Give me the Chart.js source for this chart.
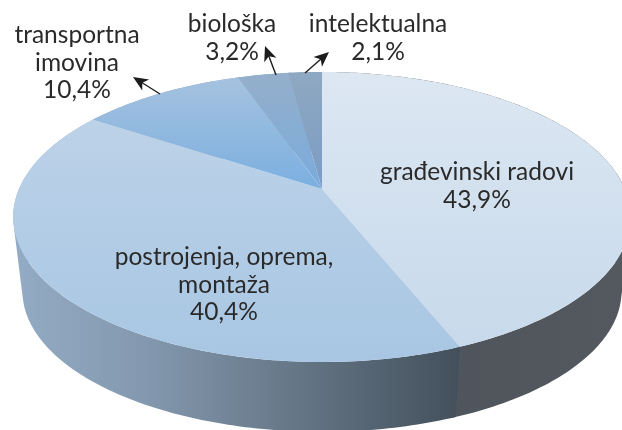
<!DOCTYPE html>
<html>
<head>
<meta charset="utf-8">
<style>html,body{margin:0;padding:0;background:#fff;overflow:hidden}canvas{display:block}</style>
<script src="https://cdn.jsdelivr.net/npm/chart.js@4"></script>
</head>
<body>
<canvas id="c" width="622" height="430"></canvas>
<script>
const categories = ['građevinski radovi', 'postrojenja, oprema, montaža', 'transportna imovina', 'biološka', 'intelektualna'];
const values = [43.9, 40.4, 10.4, 3.2, 2.1];
const labelLines = [['građevinski radovi'], ['postrojenja, oprema,', 'montaža'], ['transportna', 'imovina'], ['biološka'], ['intelektualna']];
const labelCentres = [[477, 180], [224, 265], [77, 43], [232, 32], [378, 32]];
const arrows = [null, null, [160, 94, 133, 77], [276, 75, 265, 46], [305, 73, 329, 52]];

const canvas = document.getElementById('c');
const g = canvas.getContext('2d');

function grad(x0, y0, x1, y1, stops) {
  const lg = g.createLinearGradient(x0, y0, x1, y1);
  stops.forEach(s => lg.addColorStop(s[0], s[1]));
  return lg;
}
const topFills = [
  grad(0, 72, 0, 350, [[0, '#dce7f2'], [1, '#c7d9eb']]),
  grad(0, 120, 0, 362, [[0, '#bcd2e8'], [1, '#a8c6e3']]),
  grad(0, 78, 0, 189, [[0, '#a5c2df'], [1, '#7bafe0']]),
  grad(0, 72, 0, 189, [[0, '#95afca'], [1, '#79abdc']]),
  grad(0, 72, 0, 189, [[0, '#8fa8c2'], [1, '#7a9cc4']])
];
const wallFills = [
  grad(455, 0, 622, 0, [[0, '#4f555c'], [1, '#53595f']]),
  grad(15, 0, 460, 0, [[0, '#93abc4'], [0.3, '#8398ae'], [0.7, '#5f6f7e'], [1, '#43505c']]),
  '#8fa6bf', '#8fa6bf', '#8fa6bf'
];

// perspective view of the pie's unit circle; angle comes from the library's arc elements
function project(theta, scale, dy) {
  const u = Math.cos(theta), v = Math.sin(theta), d = 1 - 0.193 * v;
  return [322 + scale * 303 * u / d, 189 + dy + scale * 139.6 * v / d];
}
function arcPts(a0, a1, scale, dy) {
  const n = Math.max(4, Math.ceil(Math.abs(a1 - a0) * 60)), pts = [];
  for (let i = 0; i <= n; i++) pts.push(project(a0 + (a1 - a0) * i / n, scale, dy));
  return pts;
}
function poly(ctx, pts, fill) {
  ctx.beginPath();
  pts.forEach((p, i) => i ? ctx.lineTo(p[0], p[1]) : ctx.moveTo(p[0], p[1]));
  ctx.closePath();
  ctx.fillStyle = fill;
  ctx.fill();
}
// union of same-orientation quads in a single path: no seams and no fold gaps
function wall(ctx, top, bottom, fill) {
  ctx.beginPath();
  for (let k = 0; k < top.length - 1; k++) {
    let q = [top[k], top[k + 1], bottom[k + 1], bottom[k]];
    let area = 0;
    q.forEach((p, i) => { const r = q[(i + 1) % 4]; area += p[0] * r[1] - r[0] * p[1]; });
    if (area < 0) q = q.reverse();
    q.forEach((p, i) => i ? ctx.lineTo(p[0], p[1]) : ctx.moveTo(p[0], p[1]));
    ctx.closePath();
  }
  ctx.fillStyle = fill;
  ctx.fill('nonzero');
}
function arrow(ctx, a) {
  const [x0, y0, x1, y1] = a, ang = Math.atan2(y1 - y0, x1 - x0);
  ctx.strokeStyle = '#1c1c1c'; ctx.fillStyle = '#1c1c1c'; ctx.lineWidth = 1.4;
  ctx.beginPath();
  ctx.moveTo(x0, y0);
  ctx.lineTo(x1 - 8 * Math.cos(ang), y1 - 8 * Math.sin(ang));
  ctx.stroke();
  ctx.save();
  ctx.translate(x1, y1); ctx.rotate(ang);
  ctx.beginPath();
  ctx.moveTo(0, 0); ctx.lineTo(-15, -6.5); ctx.lineTo(-11, 0); ctx.lineTo(-15, 6.5);
  ctx.closePath(); ctx.fill();
  ctx.restore();
}

const perspectivePie = {
  id: 'perspectivePie',
  beforeDatasetsDraw(chart) {
    const ctx = chart.ctx, arcs = chart.getDatasetMeta(0).data;
    const S = 0.97, D = 75;
    // walls, back to front
    [3, 4, 2, 0, 1].forEach(i => {
      const a = arcs[i], fill = a.options.borderColor;
      const end = a.endAngle + 0.012;
      wall(ctx, arcPts(a.startAngle, end, 1, 0), arcPts(a.startAngle, end, S, D), fill);
    });
    // top face
    arcs.forEach(a => {
      poly(ctx, [[322, 189]].concat(arcPts(a.startAngle, a.endAngle, 1, 0)), a.options.backgroundColor);
    });
    // labels
    ctx.font = '24.5px Lato';
    ctx.textAlign = 'center';
    ctx.textBaseline = 'alphabetic';
    ctx.fillStyle = '#2a2a2a';
    const lh = 27.5;
    categories.forEach((name, i) => {
      const [x, y] = labelCentres[i];
      const lines = labelLines[i].concat(values[i].toFixed(1).replace('.', ',') + '%');
      lines.forEach((t, k) => ctx.fillText(t, x, y + k * lh));
    });
    arrows.forEach(a => { if (a) arrow(ctx, a); });
    return false;
  }
};

new Chart(canvas, {
  type: 'pie',
  data: {
    labels: categories,
    datasets: [{ data: values, backgroundColor: topFills, borderColor: wallFills, borderWidth: 0 }]
  },
  options: {
    responsive: false,
    animation: false,
    events: [],
    plugins: { legend: { display: false }, tooltip: { enabled: false } }
  },
  plugins: [perspectivePie]
});
</script>
</body>
</html>
